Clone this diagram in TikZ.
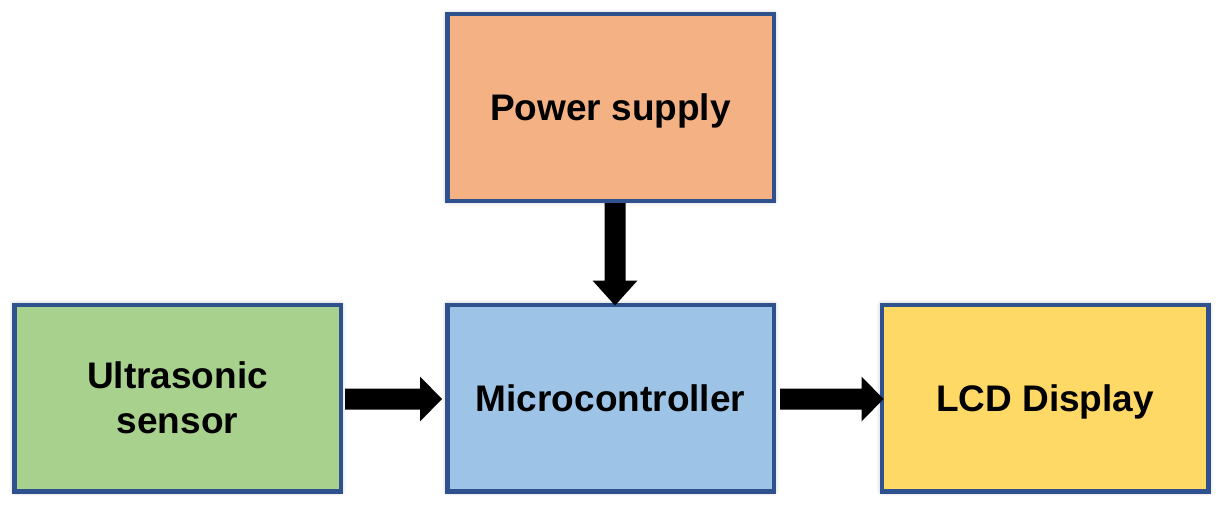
\documentclass[tikz,border=0pt]{standalone}
\usepackage{fontspec}
\setmainfont{Liberation Sans}
\usetikzlibrary{shadows.blur}
\definecolor{boxblue}{HTML}{2F528F}
\definecolor{fpower}{HTML}{F4B183}
\definecolor{fsensor}{HTML}{A9D18E}
\definecolor{fmicro}{HTML}{9DC3E6}
\definecolor{flcd}{HTML}{FFD966}
\tikzset{
  blockbox/.style={draw=boxblue, line width=4.5pt, minimum width=326.5pt, minimum height=186.5pt,
    inner sep=0pt, align=center, text height=32pt, text depth=6pt,
    font=\fontsize{37}{45}\selectfont\bfseries,
    blur shadow={shadow xshift=0pt, shadow yshift=0pt, shadow blur radius=5pt, shadow opacity=35}},
  twoline/.style={text height={}, text depth={}},
  blockarrow/.style={fill=black, draw=none}
}
\begin{document}
\begin{tikzpicture}[x=1pt,y=-1pt]
\useasboundingbox (0,0) rectangle (1222,505);
\node[blockbox, twoline, fill=fsensor] (sensor) at (177.5,398) {Ultrasonic\\sensor};
\node[blockbox, fill=fpower] (power) at (610.5,107.5) {Power supply};
\node[blockbox, fill=fmicro] (micro) at (610.5,398) {Microcontroller};
\node[blockbox, fill=flcd] (lcd) at (1045,398) {LCD Display};
% power -> micro
\fill[blockarrow] ([xshift=-6pt]power.south) -- ([xshift=-6pt,yshift=22pt]micro.north)
  -- ([xshift=-18pt,yshift=22pt]micro.north) -- ([xshift=4.5pt,yshift=-3pt]micro.north)
  -- ([xshift=27pt,yshift=22pt]micro.north) -- ([xshift=15pt,yshift=22pt]micro.north)
  -- ([xshift=15pt]power.south) -- cycle;
% sensor -> micro
\fill[blockarrow] ([xshift=2pt,yshift=-1pt]sensor.east) -- ([xshift=2pt,yshift=9.5pt]sensor.east)
  -- ([xshift=-25pt,yshift=9.5pt]micro.west) -- ([xshift=-25pt,yshift=21.5pt]micro.west)
  -- ([xshift=-3pt,yshift=-1pt]micro.west)
  -- ([xshift=-25pt,yshift=-23.5pt]micro.west) -- ([xshift=-25pt,yshift=-11.5pt]micro.west)
  -- ([xshift=2pt,yshift=-11.5pt]sensor.east) -- cycle;
% micro -> lcd
\fill[blockarrow] ([xshift=4pt,yshift=-1pt]micro.east) -- ([xshift=4pt,yshift=9.5pt]micro.east)
  -- ([xshift=-18pt,yshift=9.5pt]lcd.west) -- ([xshift=-18pt,yshift=21.5pt]lcd.west)
  -- ([xshift=4pt,yshift=-1pt]lcd.west)
  -- ([xshift=-18pt,yshift=-23.5pt]lcd.west) -- ([xshift=-18pt,yshift=-11.5pt]lcd.west)
  -- ([xshift=4pt,yshift=-11.5pt]micro.east) -- cycle;
\end{tikzpicture}
\end{document}
